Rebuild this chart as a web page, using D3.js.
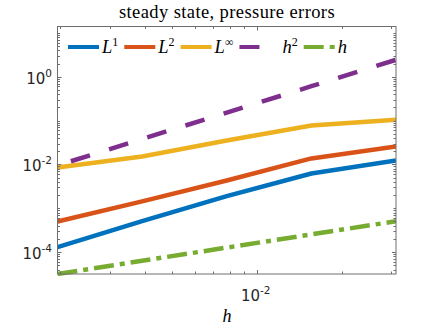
<!DOCTYPE html>
<html>
<head>
<meta charset="utf-8">
<script src="https://cdn.jsdelivr.net/npm/d3@7"></script>
<style>
  html, body { margin: 0; padding: 0; background: #fff; }
  svg { display: block; }
</style>
</head>
<body>
<svg width="438" height="328"></svg>
<script>
// mesh sizes and error values
var hValues = [1/512, 1/256, 1/128, 1/64, 1/32];
var errL1 = [1.3e-4, 5.1e-4, 1.9e-3, 6.2e-3, 1.23e-2];
var errL2 = [5.0e-4, 1.44e-3, 4.3e-3, 1.37e-2, 2.57e-2];
var errLinf = [8.5e-3, 1.52e-2, 3.5e-2, 7.7e-2, 1.05e-1];
var refH2 = [9.5e-3, 3.8e-2, 0.152, 0.608, 2.43];
var refH = [3.17e-5, 6.34e-5, 1.27e-4, 2.54e-4, 5.07e-4];

var seriesNames = ['L1', 'L2', 'Linf', 'h2', 'h'];
var seriesValues = [errL1, errL2, errLinf, refH2, refH];
var xDomain = [1/512, 1/32];
var yDomain = [3.17e-5, 14];
var xMajorTicks = [1e-2];
var yMajorTicks = [1e-4, 1e-2, 1e0];

var colors = ['#0072BD', '#D95319', '#EDB120', '#7E2F8E', '#77AC30'];
var dashes = [null, null, null, '20 20', '20 6 5 6'];
var dashOffsets = [0, 0, 0, 26, 0];

var svg = d3.select('svg');
var pLeft = 57.5, pRight = 396, pTop = 26.5, pBottom = 274;

var x = d3.scaleLog().domain(xDomain).range([pLeft, pRight]);
var y = d3.scaleLog().domain(yDomain).range([pBottom, pTop]);

function minorTicks(domain) {
    var out = [];
    var lo = Math.floor(Math.log10(domain[0]));
    var hi = Math.ceil(Math.log10(domain[1]));
    for (var k = lo; k <= hi; k++) {
        for (var m = 1; m <= 9; m++) {
            var v = m * Math.pow(10, k);
            if (v >= domain[0] * 0.999 && v <= domain[1] * 1.001) out.push(v);
        }
    }
    return out;
}

var axisColor = '#6e6e6e';
var textColor = '#262626';

// lines
var line = d3.line()
    .x(function (d) { return x(d[0]); })
    .y(function (d) { return y(d[1]); });

svg.append('defs').append('clipPath').attr('id', 'clip')
    .append('rect').attr('x', pLeft).attr('y', pTop)
    .attr('width', pRight - pLeft).attr('height', pBottom - pTop + 2);

var plot = svg.append('g').attr('clip-path', 'url(#clip)');
seriesValues.forEach(function (vals, i) {
    var pts = hValues.map(function (h, j) { return [h, vals[j]]; });
    plot.append('path')
        .attr('d', line(pts))
        .attr('fill', 'none')
        .attr('stroke', colors[i])
        .attr('stroke-width', 4.5)
        .attr('stroke-linejoin', 'round')
        .attr('stroke-dasharray', dashes[i])
        .attr('stroke-dashoffset', dashOffsets[i]);
});

// axes box + ticks
var axes = svg.append('g');
axes.append('rect')
    .attr('x', pLeft).attr('y', pTop)
    .attr('width', pRight - pLeft).attr('height', pBottom - pTop)
    .attr('fill', 'none').attr('stroke', axisColor).attr('stroke-width', 1);

minorTicks(xDomain).forEach(function (v) {
    var len = xMajorTicks.indexOf(v) >= 0 ? 4 : 2.5;
    var px = Math.round(x(v)) + 0.5;
    axes.append('line').attr('x1', px).attr('x2', px).attr('y1', pBottom).attr('y2', pBottom - len)
        .attr('stroke', axisColor);
    axes.append('line').attr('x1', px).attr('x2', px).attr('y1', pTop).attr('y2', pTop + len)
        .attr('stroke', axisColor);
});

minorTicks(yDomain).forEach(function (v) {
    var isMajor = yMajorTicks.some(function (t) { return Math.abs(t - v) / t < 1e-6; });
    var len = isMajor ? 4 : 2.5;
    var py = Math.round(y(v)) + 0.5;
    axes.append('line').attr('x1', pLeft).attr('x2', pLeft + len).attr('y1', py).attr('y2', py)
        .attr('stroke', axisColor);
    axes.append('line').attr('x1', pRight).attr('x2', pRight - len).attr('y1', py).attr('y2', py)
        .attr('stroke', axisColor);
});

// tick labels
function powerLabel(g, v, px, py, anchor) {
    var t = g.append('text')
        .attr('x', px).attr('y', py)
        .attr('text-anchor', anchor)
        .attr('font-family', 'DejaVu Sans, sans-serif')
        .attr('font-size', 15)
        .attr('fill', textColor);
    t.append('tspan').text('10');
    t.append('tspan').attr('dy', -7).attr('font-size', 10.5).text(Math.round(Math.log10(v)));
}

yMajorTicks.forEach(function (v) {
    powerLabel(svg, v, 52, y(v) + 7, 'end');
});
xMajorTicks.forEach(function (v) {
    powerLabel(svg, v, x(v) - 16, 301, 'start');
});

// title and x label
svg.append('text')
    .attr('x', 227).attr('y', 18)
    .attr('text-anchor', 'middle')
    .attr('font-family', 'Liberation Serif, serif')
    .attr('font-size', 18.5)
    .attr('letter-spacing', 0.4)
    .attr('fill', '#000')
    .text('steady state, pressure errors');

svg.append('text')
    .attr('x', 227).attr('y', 322)
    .attr('text-anchor', 'middle')
    .attr('font-family', 'Liberation Serif, serif')
    .attr('font-style', 'italic')
    .attr('font-size', 18)
    .attr('fill', '#000')
    .text('h');

// legend
var legendBase = [['L', '1'], ['L', '2'], ['L', '\u221E'], ['h', '2'], ['h', '']];
var legend = svg.append('g');
var lx = 68, ly = 47;
seriesNames.forEach(function (name, i) {
    legend.append('line')
        .attr('x1', lx).attr('x2', lx + 31)
        .attr('y1', ly).attr('y2', ly)
        .attr('stroke', colors[i])
        .attr('stroke-width', 4)
        .attr('stroke-dasharray', dashes[i]);
    var t = legend.append('text')
        .attr('x', lx + 34 + (i === 3 ? 9 : 0)).attr('y', ly + 6)
        .attr('font-family', 'Liberation Serif, serif')
        .attr('font-size', 18.5)
        .attr('fill', '#000');
    t.append('tspan').attr('font-style', 'italic').text(legendBase[i][0]);
    if (legendBase[i][1]) {
        t.append('tspan').attr('dy', -7).attr('font-size', 12).text(legendBase[i][1]);
    }
    lx = lx + 34 + (i === 3 ? 9 : 0) + t.node().getComputedTextLength() + 6;
});
</script>
</body>
</html>
